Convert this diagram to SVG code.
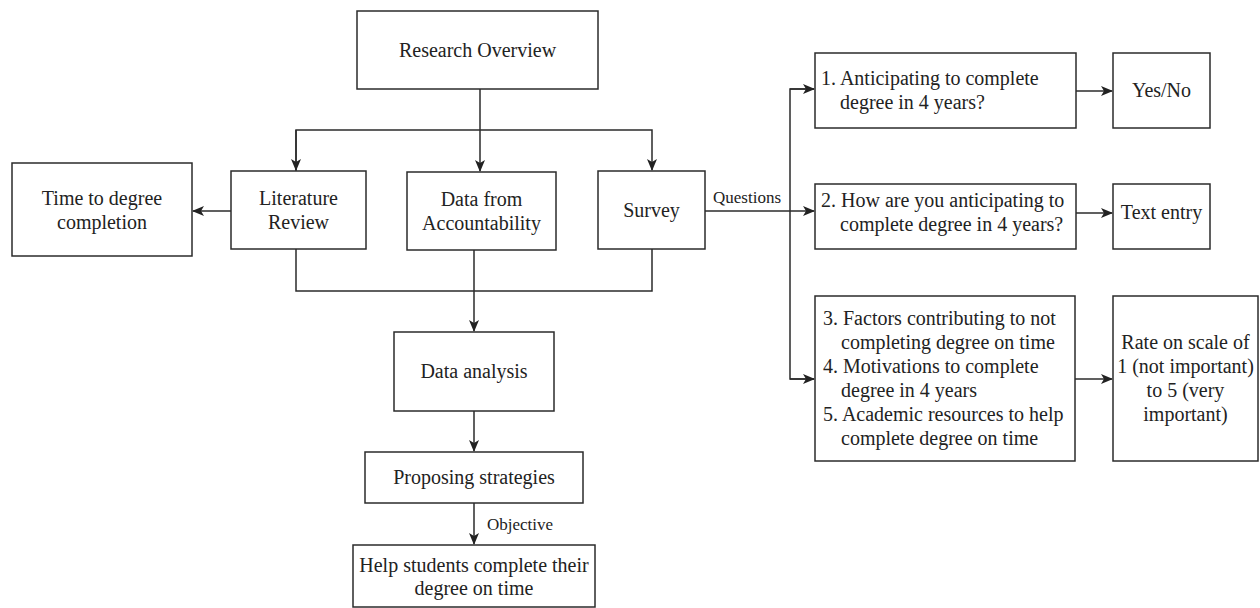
<svg xmlns="http://www.w3.org/2000/svg" width="1260" height="608" viewBox="0 0 1260 608">
<style>
.box{fill:#fff;stroke:#2b2b2b;stroke-width:1.5}
.t{font-family:"Liberation Serif","Times New Roman",serif;font-size:20px;fill:#222}
.c{text-anchor:middle}
.lbl{font-family:"Liberation Serif","Times New Roman",serif;font-size:17px;fill:#222}
.ln{fill:none;stroke:#2b2b2b;stroke-width:1.5}
</style>
<defs>
<marker id="ah" viewBox="0 0 12 10" refX="11" refY="5" markerWidth="12" markerHeight="10" markerUnits="userSpaceOnUse" orient="auto">
<path d="M0,0 L12,5 L0,10 L3,5 z" fill="#222"/>
</marker>
</defs>
<rect width="1260" height="608" fill="#fff"/>
<g id="connectors">
<path class="ln" d="M480,89 V171" marker-end="url(#ah)"/>
<path class="ln" d="M296,171 V130 H652 V170" marker-end="url(#ah)"/>
<path class="ln" d="M296,130 V170" marker-end="url(#ah)"/>
<path class="ln" d="M231,211 H193" marker-end="url(#ah)"/>
<path class="ln" d="M296,249 V291 H652 V249"/>
<path class="ln" d="M474,250 V331" marker-end="url(#ah)"/>
<path class="ln" d="M474,411 V451" marker-end="url(#ah)"/>
<path class="ln" d="M474,503 V544" marker-end="url(#ah)"/>
<path class="ln" d="M705,211 H814" marker-end="url(#ah)"/>
<path class="ln" d="M814,89 H790 V379 H814" />
<path class="ln" d="M790,89 H814" marker-end="url(#ah)"/>
<path class="ln" d="M790,379 H814" marker-end="url(#ah)"/>
<path class="ln" d="M1076,91 H1112" marker-end="url(#ah)"/>
<path class="ln" d="M1076,213 H1112" marker-end="url(#ah)"/>
<path class="ln" d="M1075,379 H1112" marker-end="url(#ah)"/>
<text class="lbl" x="713" y="203">Questions</text>
<text class="lbl" x="487" y="530">Objective</text>
</g>
<g id="research-overview">
<rect class="box" x="357" y="11" width="241" height="78"/>
<text class="t c" x="477.5" y="57">Research Overview</text>
</g>
<g id="literature-review">
<rect class="box" x="231" y="171" width="135" height="78"/>
<text class="t c" x="298.5" y="205">Literature</text>
<text class="t c" x="298.5" y="229">Review</text>
</g>
<g id="time-to-degree">
<rect class="box" x="12" y="163" width="180" height="93"/>
<text class="t c" x="102" y="205">Time to degree</text>
<text class="t c" x="102" y="229">completion</text>
</g>
<g id="data-accountability">
<rect class="box" x="407" y="172" width="149" height="78"/>
<text class="t c" x="481.5" y="206">Data from</text>
<text class="t c" x="481.5" y="230">Accountability</text>
</g>
<g id="survey">
<rect class="box" x="598" y="171" width="107" height="78"/>
<text class="t c" x="651.5" y="217">Survey</text>
</g>
<g id="data-analysis">
<rect class="box" x="394" y="332" width="160" height="79"/>
<text class="t c" x="474" y="378">Data analysis</text>
</g>
<g id="proposing-strategies">
<rect class="box" x="365" y="452" width="218" height="51"/>
<text class="t c" x="474" y="484">Proposing strategies</text>
</g>
<g id="help-students">
<rect class="box" x="353" y="545" width="242" height="62"/>
<text class="t c" x="474" y="572">Help students complete their</text>
<text class="t c" x="474" y="595">degree on time</text>
</g>
<g id="q1">
<rect class="box" x="815" y="53" width="261" height="75"/>
<text class="t" x="821" y="85">1. Anticipating to complete</text>
<text class="t" x="840" y="109">degree in 4 years?</text>
</g>
<g id="yes-no">
<rect class="box" x="1113" y="53" width="97" height="75"/>
<text class="t c" x="1161.5" y="97">Yes/No</text>
</g>
<g id="q2">
<rect class="box" x="815" y="184" width="261" height="65"/>
<text class="t" x="821" y="207">2. How are you anticipating to</text>
<text class="t" x="840" y="231">complete degree in 4 years?</text>
</g>
<g id="text-entry">
<rect class="box" x="1113" y="184" width="97" height="65"/>
<text class="t c" x="1161.5" y="219">Text entry</text>
</g>
<g id="q3-5">
<rect class="box" x="815" y="296" width="260" height="165"/>
<text class="t" x="823" y="325">3. Factors contributing to not</text>
<text class="t" x="841" y="349">completing degree on time</text>
<text class="t" x="823" y="373">4. Motivations to complete</text>
<text class="t" x="841" y="397">degree in 4 years</text>
<text class="t" x="823" y="421">5. Academic resources to help</text>
<text class="t" x="841" y="445">complete degree on time</text>
</g>
<g id="rate-scale">
<rect class="box" x="1113" y="296" width="145" height="165"/>
<text class="t c" x="1185.5" y="349">Rate on scale of</text>
<text class="t c" x="1185.5" y="373">1 (not important)</text>
<text class="t c" x="1185.5" y="397">to 5 (very</text>
<text class="t c" x="1185.5" y="421">important)</text>
</g>
</svg>
